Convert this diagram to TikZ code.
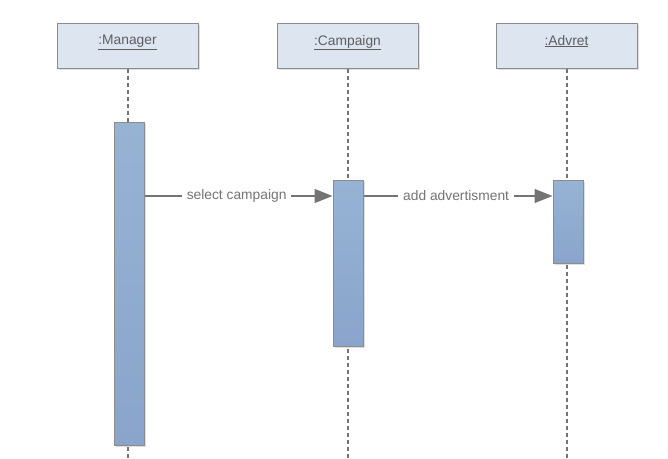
\documentclass[tikz,border=0pt]{standalone}
\usepackage{fontspec}
\setmainfont{Liberation Sans}
\usepackage{tikz}
\usepackage{xcolor}
\usetikzlibrary{arrows.meta,positioning,shapes,calc,shadows}
\definecolor{headfill}{HTML}{DDE5F1}
\definecolor{edgegray}{HTML}{8C8C8C}
\definecolor{lifegray}{HTML}{747474}
\definecolor{inkgray}{HTML}{5E5E5E}
\definecolor{acttop}{HTML}{96B3D4}
\definecolor{actbot}{HTML}{8AA4CB}

\tikzset{
  head/.style={draw=edgegray,fill=headfill,line width=1pt,minimum width=141pt,minimum height=45pt,
    inner sep=0pt,text depth=11pt,font=\fontsize{13.8}{16}\selectfont\color{inkgray},
    drop shadow={shadow xshift=1.5pt,shadow yshift=-1.5pt,fill=black!25}},
  activation/.style={draw=edgegray,top color=acttop,bottom color=actbot,line width=1pt,
    minimum width=30pt,inner sep=0pt,
    drop shadow={shadow xshift=1.5pt,shadow yshift=-1.5pt,fill=black!25}},
  lifeline/.style={lifegray,line width=2pt,dash pattern=on 4pt off 3pt},
  msg/.style={lifegray,line width=1.4pt,-{Triangle[length=18pt,width=14pt]}},
  msglabel/.style={fill=white,inner xsep=5pt,inner ysep=2pt,font=\fontsize{13.8}{16}\selectfont\color{inkgray}}
}

\begin{document}
\begin{tikzpicture}[x=1pt,y=-1pt]
  \useasboundingbox (0,0) rectangle (668,458);
  % object heads
  \node[head] (manager) at (127.5,45.5) {\underline{:Manager}};
  \node[head] (campaign) at (347.5,45.5) {\underline{:Campaign}};
  \node[head] (advret) at (566.5,45.5) {\underline{:Advret}};
  % lifelines
  \coordinate (mend) at (128,458);
  \coordinate (cend) at (347,458);
  \coordinate (aend) at (567,458);
  \draw[lifeline] (manager.south) -- (manager.south |- mend);
  \draw[lifeline] (campaign.south) -- (campaign.south |- cend);
  \draw[lifeline] (advret.south) -- (advret.south |- aend);
  % activation bars
  \node[activation,minimum height=323pt] (mact) at (129,283.5) {};
  \node[activation,minimum height=166pt] (cact) at (348,263) {};
  \node[activation,minimum height=83pt] (aact) at (568,221.5) {};
  % messages
  \coordinate (m1) at (0,196);
  \draw[msg] (mact.east |- m1) -- (cact.west |- m1)
    node[msglabel,pos=0.49] (sel) {select campaign};
  \draw[msg] (cact.east |- m1) -- (aact.west |- m1)
    node[msglabel,pos=0.49] (add) {add advertisment};
\end{tikzpicture}
\end{document}
